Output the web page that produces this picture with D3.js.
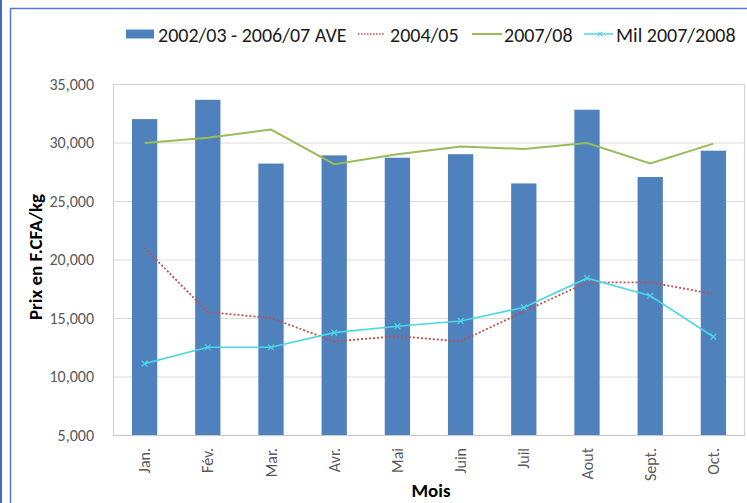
<!DOCTYPE html>
<html>
<head>
<meta charset="utf-8">
<script src="https://cdn.jsdelivr.net/npm/d3@7"></script>
<style>
  html, body { margin: 0; padding: 0; background: #fff; }
  svg { display: block; }
  text { font-family: Carlito, "Open Sans", sans-serif; }
</style>
</head>
<body>
<svg id="chart" width="747" height="503"></svg>
<script>
const months = ["Jan.", "Fév.", "Mar.", "Avr.", "Mai", "Juin", "Juil", "Aout", "Sept.", "Oct."];
const ave0203_0607 = [32000, 33650, 28200, 28900, 28700, 29000, 26500, 32800, 27050, 29300];
const s2004_05 = [21000, 15500, 15000, 13000, 13450, 13000, 15550, 18050, 18050, 17050];
const s2007_08 = [29950, 30400, 31100, 28150, 29000, 29650, 29450, 29950, 28200, 29900];
const mil2007_2008 = [11100, 12500, 12500, 13750, 14300, 14750, 15900, 18400, 16900, 13400];
const yTicks = [5000, 10000, 15000, 20000, 25000, 30000, 35000];
const seriesNames = ["2002/03 - 2006/07 AVE", "2004/05", "2007/08", "Mil 2007/2008"];

const svg = d3.select("#chart");
const plot = { left: 113, right: 745, top: 84, bottom: 435 };

// outer frame
svg.append("line").attr("x1", 1).attr("x2", 1).attr("y1", 0).attr("y2", 503)
  .attr("stroke", "#3f6fb5").attr("stroke-width", 2);
svg.append("path").attr("d", "M10.5,503 V8.5 H747")
  .attr("fill", "none").attr("stroke", "#4f7fc0").attr("stroke-width", 1.5);

const x = d3.scaleBand().domain(months).range([plot.left, plot.right]).padding(0);
const y = d3.scaleLinear().domain([5000, 35000]).range([plot.bottom, plot.top]);
const barW = x.bandwidth() * 0.4;
const cx = m => x(m) + x.bandwidth() / 2;

// gridlines
const yAxis = d3.axisLeft(y).tickValues(yTicks).tickSize(-(plot.right - plot.left))
  .tickFormat(d3.format(",")).tickPadding(19);
const gy = svg.append("g").attr("transform", `translate(${plot.left},0)`).call(yAxis);
gy.select(".domain").remove();
gy.selectAll(".tick line").attr("stroke", "#dcdcdc").attr("stroke-width", 1);
gy.selectAll(".tick text").attr("fill", "#595959").style("font-size", "16px")
  .style("font-family", "Carlito, 'Open Sans', sans-serif");

// plot border
svg.append("rect").attr("x", plot.left + 0.5).attr("y", plot.top + 0.5)
  .attr("width", plot.right - plot.left - 1).attr("height", plot.bottom - plot.top)
  .attr("fill", "none").attr("stroke", "#d4d4d4").attr("stroke-width", 1.2);

// bars
svg.append("g").selectAll("rect").data(months).join("rect")
  .attr("x", (m) => cx(m) - barW / 2)
  .attr("y", (m, i) => y(ave0203_0607[i]))
  .attr("width", barW)
  .attr("height", (m, i) => y(5000) - y(ave0203_0607[i]))
  .attr("fill", "#4f81bd");

// x axis
svg.append("line").attr("x1", plot.left).attr("x2", plot.right)
  .attr("y1", plot.bottom + 0.5).attr("y2", plot.bottom + 0.5)
  .attr("stroke", "#c8c8c8").attr("stroke-width", 1.2);
svg.append("g").selectAll("text").data(months).join("text")
  .attr("transform", m => `translate(${cx(m) + 5.5},${plot.bottom + 13}) rotate(-90)`)
  .attr("text-anchor", "end")
  .attr("fill", "#595959").style("font-size", "16px")
  .text(m => m);

const line = d3.line().x((d, i) => cx(months[i])).y(d => y(d));

svg.append("path").datum(s2007_08).attr("d", line)
  .attr("fill", "none").attr("stroke", "#9bbb59").attr("stroke-width", 2);
svg.append("path").datum(s2004_05).attr("d", line)
  .attr("fill", "none").attr("stroke", "#c0504d").attr("stroke-width", 1.8)
  .attr("stroke-dasharray", "2,2");
svg.append("path").datum(mil2007_2008).attr("d", line)
  .attr("fill", "none").attr("stroke", "#4bd7e8").attr("stroke-width", 1.6);
svg.append("g").selectAll("path").data(mil2007_2008).join("path")
  .attr("transform", (d, i) => `translate(${cx(months[i])},${y(d)})`)
  .attr("d", d3.symbol().type(d3.symbolX).size(24))
  .attr("fill", "none").attr("stroke", "#4bd7e8").attr("stroke-width", 1.2);

// axis titles
svg.append("text").attr("transform", "translate(42,257) rotate(-90)")
  .attr("text-anchor", "middle").attr("font-weight", "bold")
  .style("font-size", "19px").attr("fill", "#000").text("Prix en F.CFA/kg");
svg.append("text").attr("x", 431).attr("y", 497).attr("text-anchor", "middle")
  .attr("font-weight", "bold").style("font-size", "19px").attr("fill", "#000").text("Mois");

// legend
const lg = svg.append("g");
const ly = 34;
const tb = 41.5;
lg.append("rect").attr("x", 126).attr("y", ly - 4.5).attr("width", 28).attr("height", 9).attr("fill", "#4f81bd");
lg.append("text").attr("x", 158).attr("y", tb).style("font-size", "20px").attr("fill", "#1a1a1a").text(seriesNames[0]);
lg.append("line").attr("x1", 358).attr("x2", 384).attr("y1", ly).attr("y2", ly)
  .attr("stroke", "#c0504d").attr("stroke-width", 1.5).attr("stroke-dasharray", "1.5,1.5");
lg.append("text").attr("x", 390).attr("y", tb).style("font-size", "20px").attr("fill", "#1a1a1a").text(seriesNames[1]);
lg.append("line").attr("x1", 472).attr("x2", 502).attr("y1", ly).attr("y2", ly)
  .attr("stroke", "#9bbb59").attr("stroke-width", 2);
lg.append("text").attr("x", 504).attr("y", tb).style("font-size", "20px").attr("fill", "#1a1a1a").text(seriesNames[2]);
lg.append("line").attr("x1", 584).attr("x2", 613).attr("y1", ly).attr("y2", ly)
  .attr("stroke", "#4bd7e8").attr("stroke-width", 1.5);
lg.append("path").attr("transform", `translate(600,${ly})`)
  .attr("d", d3.symbol().type(d3.symbolX).size(16))
  .attr("fill", "none").attr("stroke", "#4bd7e8").attr("stroke-width", 1);
lg.append("text").attr("x", 616).attr("y", tb).style("font-size", "20px").attr("fill", "#1a1a1a").text(seriesNames[3]);
</script>
</body>
</html>
